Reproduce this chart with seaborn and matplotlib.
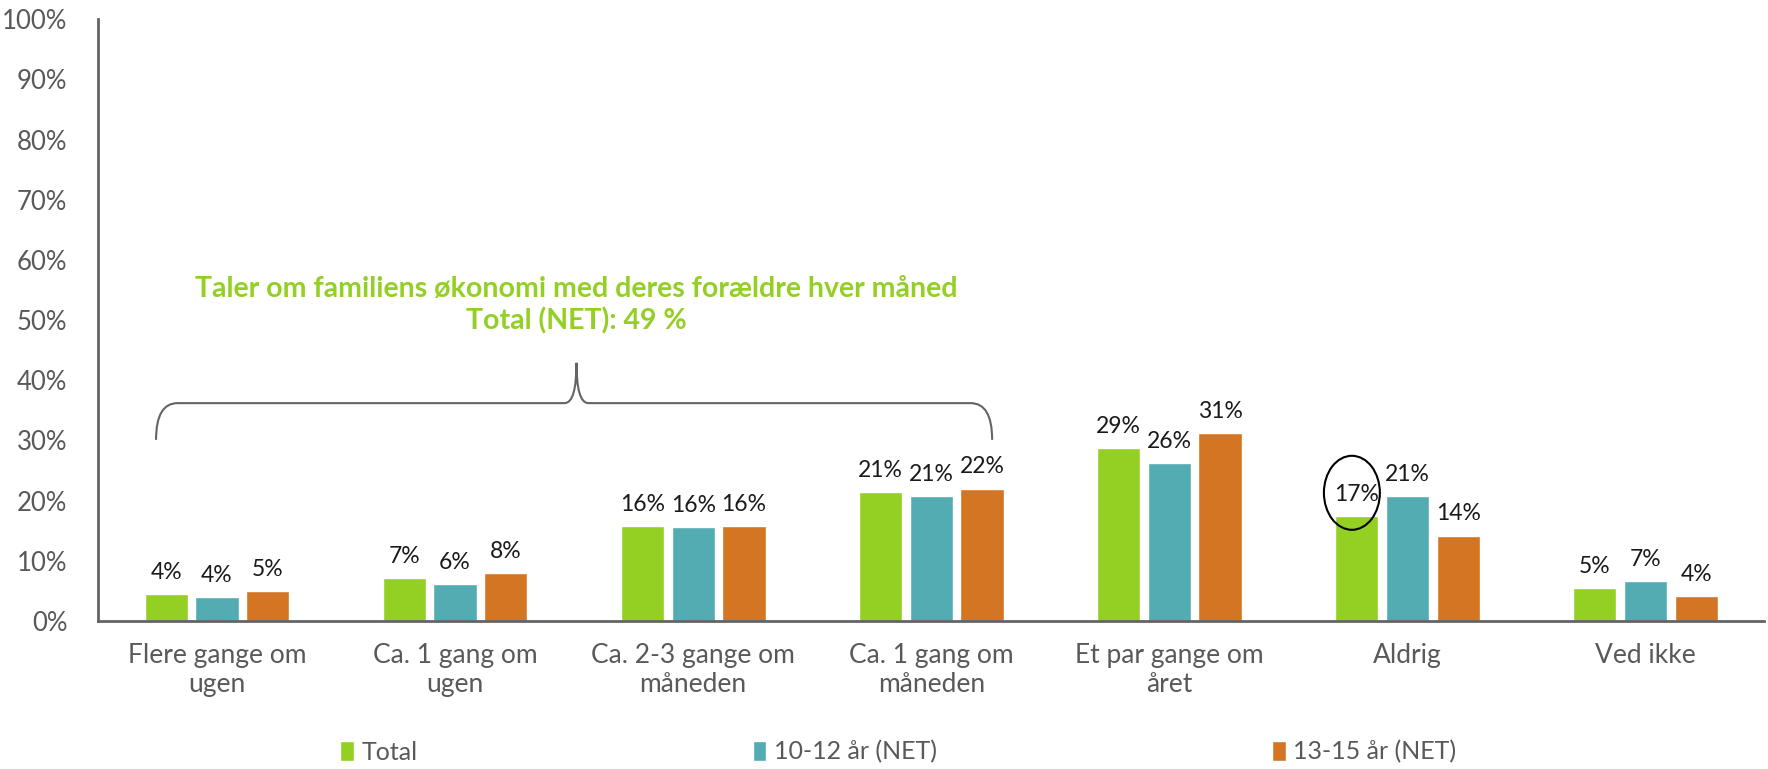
import pandas as pd
import matplotlib.pyplot as plt
import seaborn as sns
from matplotlib.patches import Ellipse
from matplotlib.path import Path
from matplotlib.patches import PathPatch

categories = ['Flere gange om\nugen', 'Ca. 1 gang om\nugen', 'Ca. 2-3 gange om\nmåneden',
              'Ca. 1 gang om\nmåneden', 'Et par gange om\nåret', 'Aldrig', 'Ved ikke']
series = ['Total', '10-12 år (NET)', '13-15 år (NET)']
total = [4.5, 7.1, 15.7, 21.4, 28.7, 17.4, 5.4]
age_10_12 = [4.0, 6.2, 15.6, 20.8, 26.3, 20.8, 6.6]
age_13_15 = [4.9, 8.0, 15.8, 22.0, 31.2, 14.2, 4.1]
labels = [['4%', '7%', '16%', '21%', '29%', '17%', '5%'],
          ['4%', '6%', '16%', '21%', '26%', '21%', '7%'],
          ['5%', '8%', '16%', '22%', '31%', '14%', '4%']]
yticks = [0, 10, 20, 30, 40, 50, 60, 70, 80, 90, 100]
colors = ['#94CF24', '#53ACB1', '#D47524']

df = pd.DataFrame({
    'Kategori': categories * 3,
    'Serie': [s for s in series for _ in categories],
    'Andel': total + age_10_12 + age_13_15,
})

sns.set_style('white')
plt.rcParams['font.family'] = ['Lato', 'DejaVu Sans']

fig = plt.figure(figsize=(17.68, 7.69), dpi=100)
ax = fig.add_axes([0.0554, 0.1925, 0.9426, 0.7825])

sns.barplot(data=df, x='Kategori', y='Andel', hue='Serie', palette=colors, saturation=1,
            width=0.64, gap=0.15, ax=ax, legend=True, edgecolor='white', linewidth=1)

for cont, labs in zip(ax.containers, labels):
    ax.bar_label(cont, labels=labs, padding=8, fontsize=16.5, color='#1a1a1a')

ax.set_xlim(-0.5, 6.5)
ax.set_ylim(0, 100)
ax.set_yticks(yticks)
ax.set_yticklabels([f'{t}%' for t in yticks], fontsize=18.5, color='#595959')
ax.tick_params(axis='y', length=0, pad=22)
ax.tick_params(axis='x', length=0, pad=16, labelsize=19, labelcolor='#595959')
ax.set_xlabel('')
ax.set_ylabel('')
for s in ['top', 'right']:
    ax.spines[s].set_visible(False)
for s in ['left', 'bottom']:
    ax.spines[s].set_color('#646464')
    ax.spines[s].set_linewidth(2)

# curly brace over the first four groups
x0, x1, xm = -0.256, 3.256, 1.51
yb, yh, yp = 30.1, 36.2, 42.9
brace = [
    (Path.MOVETO, (x0, yb)), (Path.CURVE3, (x0, yh)), (Path.CURVE3, (x0 + 0.09, yh)),
    (Path.LINETO, (xm - 0.05, yh)), (Path.CURVE3, (xm, yh)), (Path.CURVE3, (xm, yp)),
    (Path.CURVE3, (xm, yh)), (Path.CURVE3, (xm + 0.05, yh)),
    (Path.LINETO, (x1 - 0.09, yh)), (Path.CURVE3, (x1, yh)), (Path.CURVE3, (x1, yb)),
]
codes, verts = zip(*brace)
ax.add_patch(PathPatch(Path(verts, codes), fill=False, edgecolor='#646464', linewidth=1.5))

ax.text(xm, 52.5, 'Taler om familiens økonomi med deres forældre hver måned\nTotal (NET): 49 %',
        ha='center', va='center', fontsize=20.5, fontweight='bold', color='#94CF24',
        linespacing=1.25)

ax.add_patch(Ellipse((4.767, 21.3), 0.235, 12.3, fill=False, edgecolor='black', linewidth=1.5,
                     clip_on=False))

handles, labs = ax.get_legend_handles_labels()
ax.get_legend().remove()
fig.legend(handles, labs, loc='center', bbox_to_anchor=(0.508, 0.022), ncol=3, frameon=False,
           handlelength=0.55, handleheight=0.9, handletextpad=0.3,
           columnspacing=13.4, labelcolor='#595959', prop={'size': 18})

plt.savefig('out.png', dpi=100)
